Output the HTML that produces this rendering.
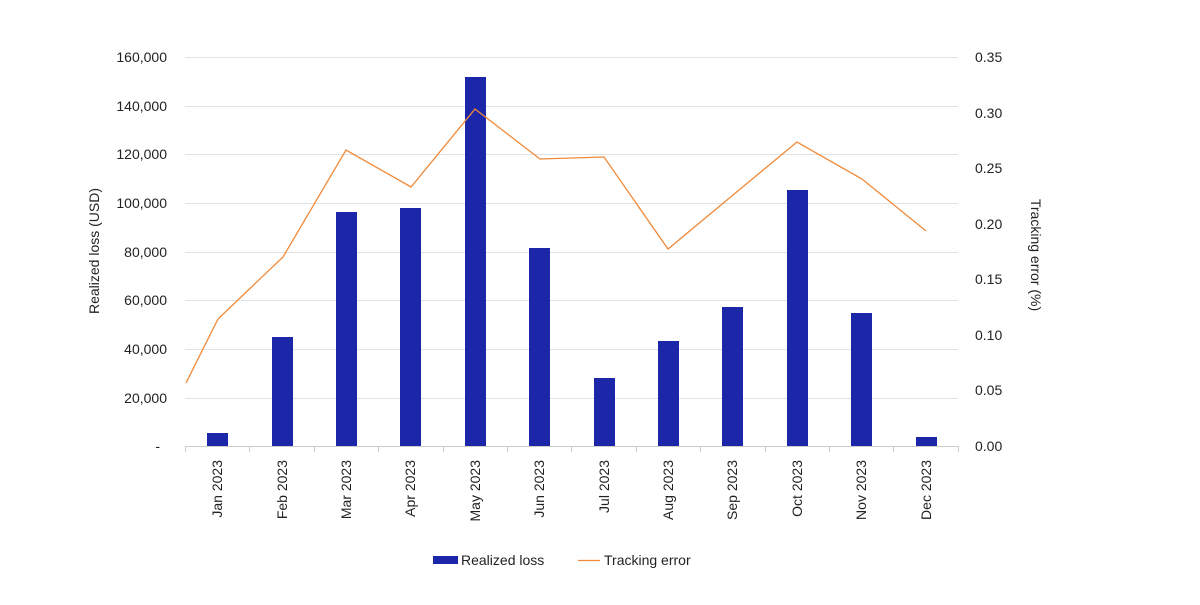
<!DOCTYPE html>
<html><head><style>
body{margin:0;background:#fff;}
text{font-family:"Liberation Sans",sans-serif;fill:#222;font-size:14px;}
</style></head><body>
<svg width="1200" height="600" xmlns="http://www.w3.org/2000/svg">
<g stroke="#e2e2e2" stroke-width="1">
<line x1="185" x2="958" y1="57.5" y2="57.5"/>
<line x1="185" x2="958" y1="106.5" y2="106.5"/>
<line x1="185" x2="958" y1="154.5" y2="154.5"/>
<line x1="185" x2="958" y1="203.5" y2="203.5"/>
<line x1="185" x2="958" y1="252.5" y2="252.5"/>
<line x1="185" x2="958" y1="300.5" y2="300.5"/>
<line x1="185" x2="958" y1="349.5" y2="349.5"/>
<line x1="185" x2="958" y1="398.5" y2="398.5"/>
</g>
<line x1="185" x2="958" y1="446.5" y2="446.5" stroke="#ccc"/>
<g stroke="#ccc">
<line x1="185.5" x2="185.5" y1="446" y2="452"/><line x1="249.5" x2="249.5" y1="446" y2="452"/><line x1="314.5" x2="314.5" y1="446" y2="452"/><line x1="378.5" x2="378.5" y1="446" y2="452"/><line x1="443.5" x2="443.5" y1="446" y2="452"/><line x1="507.5" x2="507.5" y1="446" y2="452"/><line x1="571.5" x2="571.5" y1="446" y2="452"/><line x1="636.5" x2="636.5" y1="446" y2="452"/><line x1="700.5" x2="700.5" y1="446" y2="452"/><line x1="765.5" x2="765.5" y1="446" y2="452"/><line x1="829.5" x2="829.5" y1="446" y2="452"/><line x1="893.5" x2="893.5" y1="446" y2="452"/><line x1="958.5" x2="958.5" y1="446" y2="452"/>
</g>
<g fill="#1c26a8">
<rect x="207" y="433" width="21" height="13"/>
<rect x="272" y="337" width="21" height="109"/>
<rect x="336" y="212" width="21" height="234"/>
<rect x="400" y="208" width="21" height="238"/>
<rect x="465" y="77" width="21" height="369"/>
<rect x="529" y="248" width="21" height="198"/>
<rect x="594" y="378" width="21" height="68"/>
<rect x="658" y="341" width="21" height="105"/>
<rect x="722" y="307" width="21" height="139"/>
<rect x="787" y="190" width="21" height="256"/>
<rect x="851" y="313" width="21" height="133"/>
<rect x="916" y="437" width="21" height="9"/>
</g>
<polyline fill="none" stroke="#f08a3a" stroke-width="1.3" points="186,383 218,319 283,257 346,150 411,187 475,109 540,159 604,157 668,249 733,195 797,142 862,179 926,231"/>
<g text-anchor="end">
<text x="167" y="62">160,000</text><text x="167" y="111">140,000</text><text x="167" y="159">120,000</text><text x="167" y="208">100,000</text><text x="167" y="257">80,000</text><text x="167" y="305">60,000</text><text x="167" y="354">40,000</text><text x="167" y="403">20,000</text><text x="160" y="451">-</text>
</g>
<g>
<text x="975" y="62">0.35</text><text x="975" y="118">0.30</text><text x="975" y="173">0.25</text><text x="975" y="229">0.20</text><text x="975" y="284">0.15</text><text x="975" y="340">0.10</text><text x="975" y="395">0.05</text><text x="975" y="451">0.00</text>
</g>
<g text-anchor="end">
<text transform="translate(222,460) rotate(-90)">Jan 2023</text>
<text transform="translate(287,460) rotate(-90)">Feb 2023</text>
<text transform="translate(351,460) rotate(-90)">Mar 2023</text>
<text transform="translate(415,460) rotate(-90)">Apr 2023</text>
<text transform="translate(480,460) rotate(-90)">May 2023</text>
<text transform="translate(544,460) rotate(-90)">Jun 2023</text>
<text transform="translate(609,460) rotate(-90)">Jul 2023</text>
<text transform="translate(673,460) rotate(-90)">Aug 2023</text>
<text transform="translate(737,460) rotate(-90)">Sep 2023</text>
<text transform="translate(802,460) rotate(-90)">Oct 2023</text>
<text transform="translate(866,460) rotate(-90)">Nov 2023</text>
<text transform="translate(931,460) rotate(-90)">Dec 2023</text>
</g>
<text text-anchor="middle" transform="translate(99,251) rotate(-90)">Realized loss (USD)</text>
<text text-anchor="middle" transform="translate(1031,255) rotate(90)">Tracking error (%)</text>
<rect x="433" y="556" width="25" height="8" fill="#1c26a8"/>
<text x="461" y="565">Realized loss</text>
<line x1="578" x2="600" y1="560.5" y2="560.5" stroke="#f08a3a" stroke-width="1.3"/>
<text x="604" y="565">Tracking error</text>
</svg>
</body></html>
